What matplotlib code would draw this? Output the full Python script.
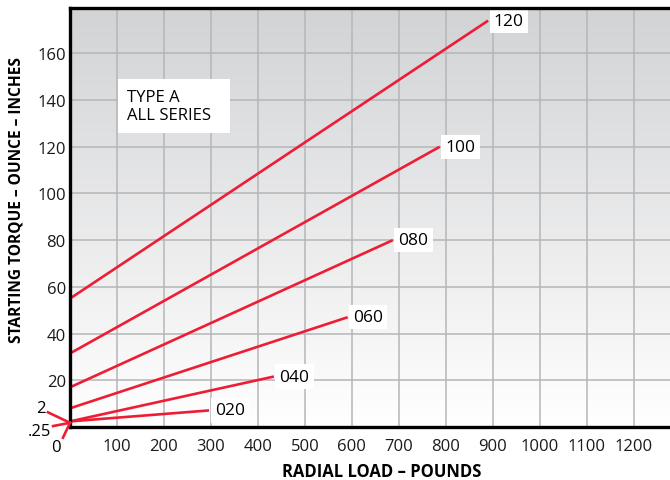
import numpy as np
import matplotlib.pyplot as plt

plt.rcParams['font.family'] = ['Open Sans', 'DejaVu Sans']

# each series: (label, start torque at 0 load, end load, end torque)
series = ["020", "040", "060", "080", "100", "120"]
start_torque = [2.4, 2.4, 8, 17, 31.5, 55]
end_load = [296, 434, 591, 687, 787, 890]
end_torque = [7.1, 21.6, 47, 80, 120, 174]

x_ticks = [100, 200, 300, 400, 500, 600, 700, 800, 900, 1000, 1100, 1200]
y_ticks = [20, 40, 60, 80, 100, 120, 140, 160]

red = '#ee1d35'

fig = plt.figure(figsize=(6.7, 4.81), dpi=100)
ax = fig.add_axes([70 / 670, 1 - 428 / 481, 600 / 670, 419 / 481])
ax.set_xlim(0, 1277)
ax.set_ylim(0, 179.4)

# grey-to-white gradient background
grad = np.linspace(0, 1, 256).reshape(-1, 1)
cmap = plt.matplotlib.colors.LinearSegmentedColormap.from_list('bg', ['#ffffff', '#d2d3d5'])
ax.imshow(grad, aspect='auto', cmap=cmap, origin='lower',
          extent=[0, 1277, 0, 179.4], zorder=0)

ax.set_xticks(np.arange(0, 1300, 100))
ax.set_yticks(np.arange(0, 180, 20))
ax.grid(True, color='#b5b6b8', linewidth=1.1, zorder=1)
ax.set_xticklabels([''] + [str(v) for v in x_ticks])
ax.set_yticklabels([''] + [str(v) for v in y_ticks])
ax.tick_params(length=0, labelsize=12, colors='#1a1a1a')
ax.tick_params(axis='x', pad=8)
ax.tick_params(axis='y', pad=3)

for s in ['left', 'top', 'bottom']:
    ax.spines[s].set_linewidth(2.4)
    ax.spines[s].set_color('black')
    ax.spines[s].set_zorder(5)
ax.spines['right'].set_visible(False)

for name, y0, x1, y1 in zip(series, start_torque, end_load, end_torque):
    ax.plot([0, x1], [y0, y1], color=red, linewidth=1.9, zorder=3,
            solid_capstyle='butt')
    ax.text(x1 + 12, y1, name, fontsize=12.5, va='center', ha='left', zorder=4,
            bbox=dict(facecolor='white', edgecolor='none', pad=3))

# callouts for the small values at the origin
ax.plot([-47, 0], [6.3, 1.8], color=red, linewidth=1.9, clip_on=False, zorder=6)
ax.plot([-36, 0], [0.4, 1.8], color=red, linewidth=1.9, clip_on=False, zorder=6)
ax.plot([-15, 0], [-4.6, 1.8], color=red, linewidth=1.9, clip_on=False, zorder=6)
ax.text(-52, 8, "2", fontsize=12, ha='right', va='center', clip_on=False)
ax.text(-40, -1.8, ".25", fontsize=12, ha='right', va='center', clip_on=False)
ax.text(-19, -8.5, "0", fontsize=12, ha='right', va='center', clip_on=False)

ax.text(122, 137.5, "TYPE A\nALL SERIES  ", fontsize=12, va='center', ha='left',
        linespacing=1.2, zorder=4,
        bbox=dict(facecolor='white', edgecolor='none', pad=7))

fig.text(382 / 670, 1 - 472 / 481, "RADIAL LOAD – POUNDS", fontsize=12,
         fontweight='bold', ha='center', va='center')
fig.text(17 / 670, 1 - 200 / 481, "STARTING TORQUE – OUNCE – INCHES", fontsize=11.2,
         fontweight='bold', ha='center', va='center', rotation=90)

fig.savefig('out.png', dpi=100)
